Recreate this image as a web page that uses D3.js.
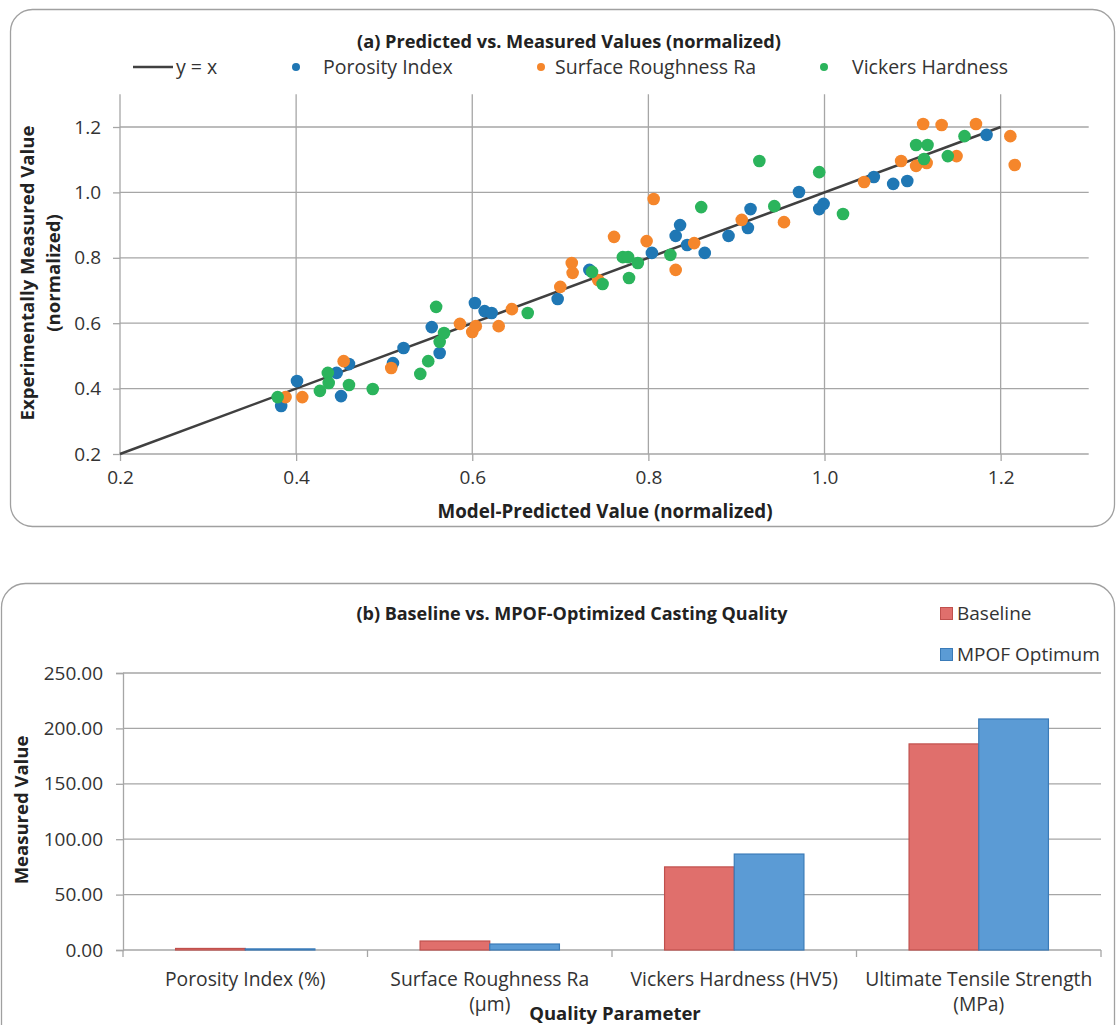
<!DOCTYPE html>
<html>
<head>
<meta charset="utf-8">
<script src="https://cdn.jsdelivr.net/npm/d3@7"></script>
<style>
  html, body { margin: 0; padding: 0; background: #fff; }
  svg { display: block; font-family: "Open Sans", "Noto Sans", sans-serif; }
  .grid line { stroke: #a6a6a6; stroke-width: 1.3; }
  .axis path, .axis line { stroke: #a6a6a6; stroke-width: 1.3; }
  .axis text { fill: #333; font-size: 19px; font-family: "Open Sans", "Noto Sans", sans-serif; }
  .ttl { font-weight: bold; fill: #222; }
  .lbl { fill: #333; }
</style>
</head>
<body>
<svg id="chart" width="1117" height="1025"></svg>
<script>
// ---- panel (a): predicted vs measured, [predicted, measured] ----
const porosityPts = [
  [0.383, 0.347], [0.401, 0.423], [0.446, 0.448], [0.451, 0.377], [0.460, 0.475],
  [0.510, 0.478], [0.522, 0.524], [0.554, 0.588], [0.563, 0.509], [0.603, 0.662],
  [0.614, 0.637], [0.622, 0.631], [0.697, 0.674], [0.733, 0.763], [0.804, 0.815],
  [0.831, 0.867], [0.836, 0.900], [0.844, 0.839], [0.864, 0.815], [0.891, 0.867],
  [0.913, 0.891], [0.916, 0.949], [0.971, 1.001], [0.994, 0.949], [0.999, 0.965],
  [1.056, 1.047], [1.078, 1.026], [1.094, 1.035], [1.184, 1.176]
];
const roughnessPts = [
  [0.388, 0.374], [0.407, 0.374], [0.454, 0.484], [0.508, 0.463], [0.586, 0.598],
  [0.600, 0.573], [0.604, 0.591], [0.630, 0.591], [0.645, 0.643], [0.700, 0.711],
  [0.713, 0.784], [0.714, 0.754], [0.743, 0.732], [0.761, 0.864], [0.798, 0.851],
  [0.806, 0.980], [0.831, 0.763], [0.852, 0.845], [0.906, 0.916], [0.954, 0.909],
  [1.045, 1.032], [1.087, 1.096], [1.104, 1.081], [1.116, 1.090], [1.150, 1.111],
  [1.112, 1.209], [1.133, 1.206], [1.172, 1.209], [1.211, 1.172], [1.216, 1.084]
];
const hardnessPts = [
  [0.379, 0.374], [0.427, 0.393], [0.436, 0.448], [0.437, 0.417], [0.460, 0.411],
  [0.487, 0.399], [0.541, 0.445], [0.550, 0.484], [0.559, 0.650], [0.563, 0.543],
  [0.568, 0.570], [0.663, 0.631], [0.736, 0.757], [0.748, 0.720], [0.771, 0.802],
  [0.777, 0.802], [0.778, 0.738], [0.788, 0.784], [0.825, 0.809], [0.860, 0.955],
  [0.926, 1.096], [0.943, 0.958], [0.994, 1.062], [1.021, 0.934], [1.104, 1.145],
  [1.117, 1.145], [1.113, 1.102], [1.140, 1.111], [1.159, 1.172]
];
const identityLine = [[0.2, 0.2], [1.2, 1.2]];
const scatterTicks = [0.2, 0.4, 0.6, 0.8, 1.0, 1.2];

// ---- panel (b): baseline vs optimum ----
const qualityParams = ["Porosity Index (%)", "Surface Roughness Ra (µm)", "Vickers Hardness (HV5)", "Ultimate Tensile Strength (MPa)"];
const baselineVals = [1.4, 8.1, 75.0, 186.0];
const optimumVals = [1.0, 5.4, 86.6, 208.5];
const barTicks = [0, 50, 100, 150, 200, 250];

const svg = d3.select("#chart");

// rounded panel frames
svg.append("rect").attr("x", 10.5).attr("y", 9.5).attr("width", 1104).attr("height", 517)
  .attr("rx", 22).attr("fill", "none").attr("stroke", "#a0a0a0").attr("stroke-width", 1.3);
svg.append("rect").attr("x", 1.5).attr("y", 583.5).attr("width", 1113).attr("height", 470)
  .attr("rx", 24).attr("fill", "none").attr("stroke", "#a0a0a0").attr("stroke-width", 1.3);

// ===================== (a) scatter =====================
const x = d3.scaleLinear().domain([0.2, 1.3]).range([120, 1088.7]);
const y = d3.scaleLinear().domain([0.2, 1.3]).range([454, 94.3]);

const gA = svg.append("g");

gA.append("g").attr("class", "grid")
  .selectAll("line.h").data(scatterTicks).join("line")
  .attr("x1", x(0.2)).attr("x2", x(1.3)).attr("y1", d => y(d)).attr("y2", d => y(d));
gA.append("g").attr("class", "grid")
  .selectAll("line.v").data(scatterTicks).join("line")
  .attr("y1", y(0.2)).attr("y2", y(1.3)).attr("x1", d => x(d)).attr("x2", d => x(d));

gA.append("g").attr("class", "axis")
  .attr("transform", `translate(0,${y(0.2)})`)
  .call(d3.axisBottom(x).tickValues(scatterTicks).tickFormat(d3.format(".1f")).tickSize(7).tickPadding(10))
  .call(g => g.select(".domain").remove());
gA.append("g").attr("class", "axis")
  .attr("transform", `translate(${x(0.2)},0)`)
  .call(d3.axisLeft(y).tickValues(scatterTicks).tickFormat(d3.format(".1f")).tickSize(7).tickPadding(12))
  .call(g => g.select(".domain").remove());

gA.append("path").datum(identityLine)
  .attr("d", d3.line().x(d => x(d[0])).y(d => y(d[1])))
  .attr("stroke", "#404040").attr("stroke-width", 2.5).attr("fill", "none");

const series = [
  { name: "Porosity Index", pts: porosityPts, color: "#1f77b4" },
  { name: "Surface Roughness Ra", pts: roughnessPts, color: "#f5862b" },
  { name: "Vickers Hardness", pts: hardnessPts, color: "#2bb45c" }
];

series.forEach(s => {
  gA.append("g").selectAll("circle").data(s.pts).join("circle")
    .attr("cx", d => x(d[0])).attr("cy", d => y(d[1])).attr("r", 6.3)
    .attr("fill", s.color);
});

gA.append("text").attr("class", "ttl").attr("x", 569).attr("y", 48)
  .attr("text-anchor", "middle").style("font-size", "18.2px")
  .text("(a) Predicted vs. Measured Values (normalized)");

// legend (a)
const legA = gA.append("g").style("font-size", "19.5px");
legA.append("line").attr("x1", 133).attr("x2", 173).attr("y1", 67).attr("y2", 67)
  .attr("stroke", "#404040").attr("stroke-width", 2.5);
legA.append("text").attr("class", "lbl").attr("x", 176).attr("y", 74).text("y = x");
const legPos = [[296, 323], [541, 555], [824, 852]];
series.forEach((s, i) => {
  legA.append("circle").attr("cx", legPos[i][0]).attr("cy", 67).attr("r", 4).attr("fill", s.color);
  legA.append("text").attr("class", "lbl").attr("x", legPos[i][1]).attr("y", 74).text(s.name);
});

gA.append("text").attr("class", "ttl").attr("x", 605).attr("y", 518)
  .attr("text-anchor", "middle").style("font-size", "18.8px")
  .text("Model-Predicted Value (normalized)");
const yTitle = gA.append("text").attr("class", "ttl").style("font-size", "18.6px")
  .attr("text-anchor", "middle").attr("transform", "translate(34,273) rotate(-90)");
yTitle.append("tspan").attr("x", 0).attr("dy", 0).text("Experimentally Measured Value");
yTitle.append("tspan").attr("x", 0).attr("dy", 26).text("(normalized)");

// ===================== (b) bars =====================
const xb = d3.scaleBand().domain(qualityParams).range([123, 1101]).paddingInner(0.43).paddingOuter(0.215);
const xs = d3.scaleBand().domain(["baseline", "optimum"]).range([0, xb.bandwidth()]);
const yb = d3.scaleLinear().domain([0, 250]).range([950, 673]);

const gB = svg.append("g");

gB.append("g").attr("class", "grid")
  .selectAll("line").data(barTicks.slice(1)).join("line")
  .attr("x1", 123).attr("x2", 1101).attr("y1", d => yb(d)).attr("y2", d => yb(d));

gB.append("g").attr("class", "axis")
  .attr("transform", "translate(123,0)")
  .call(d3.axisLeft(yb).tickValues(barTicks).tickFormat(d3.format(".2f")).tickSize(7).tickPadding(13));

// x axis with ticks at category boundaries
const xAxisB = gB.append("g").attr("class", "axis");
xAxisB.append("line").attr("x1", 123).attr("x2", 1101).attr("y1", yb(0)).attr("y2", yb(0));
const bounds = [123].concat(qualityParams.map(q => xb(q) + xb.bandwidth() + xb.step() * xb.paddingInner() / 2));
bounds[bounds.length - 1] = 1101;
xAxisB.selectAll("line.tk").data(bounds).join("line").attr("class", "tk")
  .attr("x1", d => d).attr("x2", d => d).attr("y1", yb(0)).attr("y2", yb(0) + 7);

const barSeries = [
  { key: "baseline", vals: baselineVals, fill: "#e06f6c", stroke: "#c0504d" },
  { key: "optimum", vals: optimumVals, fill: "#5b9bd5", stroke: "#3a7bb8" }
];
barSeries.forEach(s => {
  gB.append("g").selectAll("rect").data(qualityParams).join("rect")
    .attr("x", d => xb(d) + xs(s.key))
    .attr("y", (d, i) => yb(s.vals[i]))
    .attr("width", xs.bandwidth())
    .attr("height", (d, i) => yb(0) - yb(s.vals[i]))
    .attr("fill", s.fill).attr("stroke", s.stroke).attr("stroke-width", 1.2);
});

// category labels (wrapped like the reference)
const catLines = [["Porosity Index (%)"], ["Surface Roughness Ra", "(µm)"], ["Vickers Hardness (HV5)"], ["Ultimate Tensile Strength", "(MPa)"]];
qualityParams.forEach((q, i) => {
  const t = gB.append("text").attr("class", "lbl").attr("text-anchor", "middle")
    .style("font-size", "19.3px").attr("x", xb(q) + xb.bandwidth() / 2).attr("y", 986);
  catLines[i].forEach((ln, j) => {
    t.append("tspan").attr("x", xb(q) + xb.bandwidth() / 2).attr("dy", j ? 25 : 0).text(ln);
  });
});

gB.append("text").attr("class", "ttl").attr("x", 572).attr("y", 620)
  .attr("text-anchor", "middle").style("font-size", "18px")
  .text("(b) Baseline vs. MPOF-Optimized Casting Quality");
gB.append("text").attr("class", "ttl").attr("x", 615).attr("y", 1020)
  .attr("text-anchor", "middle").style("font-size", "18.5px").text("Quality Parameter");
gB.append("text").attr("class", "ttl").style("font-size", "18.5px").attr("text-anchor", "middle")
  .attr("transform", "translate(28,810) rotate(-90)").text("Measured Value");

// legend (b)
const legB = gB.append("g").style("font-size", "19px");
[["Baseline", 614], ["MPOF Optimum", 655]].forEach((l, i) => {
  legB.append("rect").attr("x", 940.5).attr("y", l[1] - 6.5).attr("width", 12).attr("height", 12)
    .attr("fill", barSeries[i].fill).attr("stroke", barSeries[i].stroke);
  legB.append("text").attr("class", "lbl").attr("x", 957).attr("y", l[1] + 6).text(l[0]);
});
</script>
</body>
</html>
